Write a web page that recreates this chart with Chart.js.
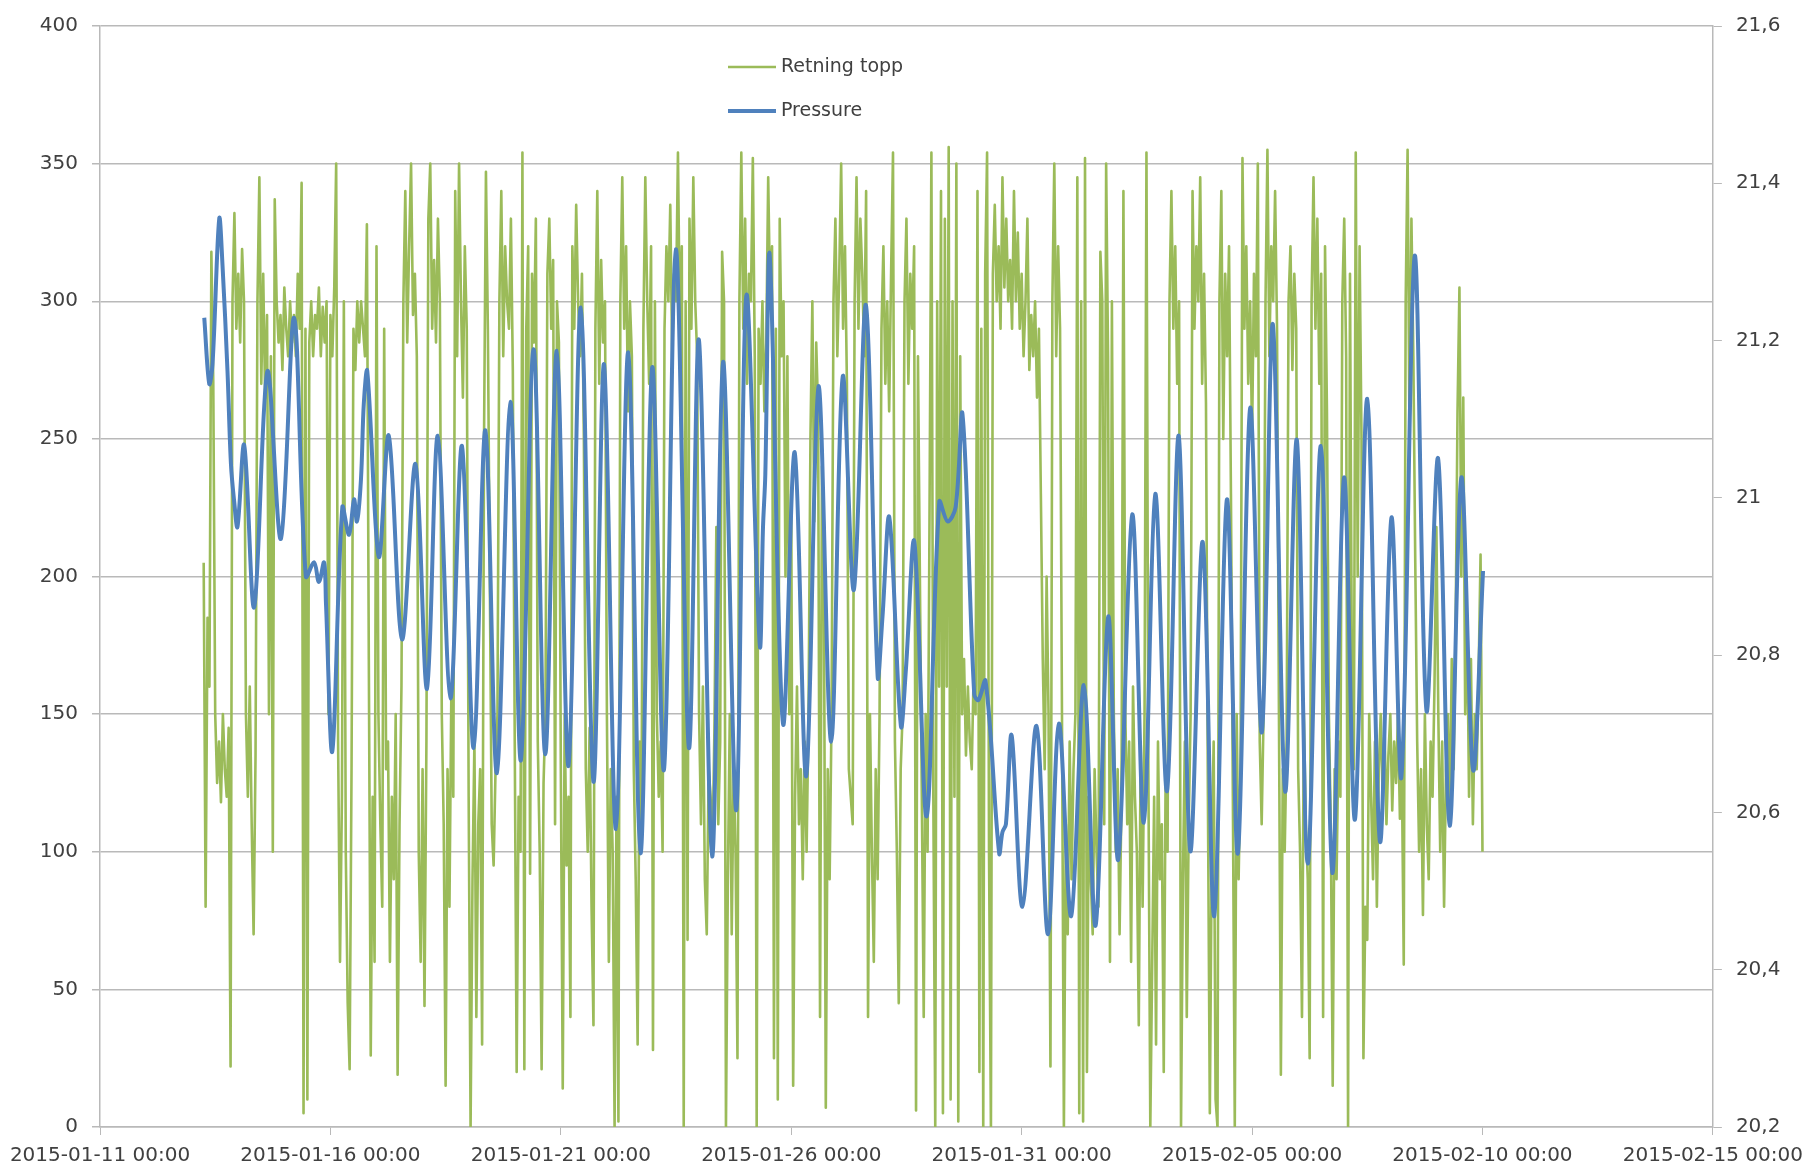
<!DOCTYPE html>
<html>
<head>
<meta charset="utf-8">
<script src="https://cdn.jsdelivr.net/npm/chart.js@4.4.0/dist/chart.umd.min.js"></script>
<style>
  html, body { margin: 0; padding: 0; background: #fff; }
</style>
</head>
<body>
<canvas id="chart" width="1812" height="1173"></canvas>
<script>
// x is hours since 2015-01-11 00:00, both series start 2015-01-13 06:00
const startHour = 54;
const xTickLabels = ["2015-01-11 00:00", "2015-01-16 00:00", "2015-01-21 00:00", "2015-01-26 00:00",
  "2015-01-31 00:00", "2015-02-05 00:00", "2015-02-10 00:00", "2015-02-15 00:00"];

// Retning topp, hourly
const retningTopp = [
  205, 80, 185, 160, 318, 270, 150, 125, 140, 118, 150, 130, 120, 145, 22, 300, 332, 290, 310, 285, 319, 300, 150, 120,
  160, 110, 70, 135, 300, 345, 270, 310, 265, 295, 150, 280, 100, 337, 300, 285, 295, 275, 305, 290, 280, 300, 285, 295,
  280, 310, 290, 343, 5, 290, 10, 285, 300, 280, 295, 290, 305, 280, 298, 285, 300, 150, 295, 280, 305, 350, 140, 60,
  120, 300, 100, 45, 21, 130, 290, 275, 300, 285, 300, 290, 280, 328, 170, 26, 120, 60, 320, 150, 110, 80, 290, 130,
  140, 60, 120, 90, 150, 19, 110, 160, 300, 340, 285, 320, 350, 295, 310, 280, 100, 60, 130, 44, 140, 330, 350, 290,
  315, 285, 330, 300, 150, 110, 15, 130, 80, 160, 120, 340, 280, 350, 300, 265, 320, 290, 120, 0, 90, 140, 40, 110,
  130, 30, 250, 347, 290, 200, 110, 95, 130, 150, 300, 340, 280, 320, 300, 290, 330, 275, 140, 20, 120, 100, 354, 21,
  290, 320, 92, 310, 285, 330, 140, 100, 21, 125, 150, 310, 330, 290, 315, 110, 300, 285, 130, 14, 150, 95, 120, 40,
  320, 290, 335, 300, 280, 310, 250, 130, 100, 145, 80, 37, 290, 340, 270, 315, 285, 300, 150, 60, 130, 100, 0, 120,
  2, 300, 345, 290, 320, 260, 300, 280, 130, 90, 30, 140, 110, 290, 345, 300, 270, 320, 28, 300, 150, 120, 140, 100,
  290, 320, 300, 335, 280, 310, 300, 354, 290, 320, 0, 300, 68, 330, 290, 345, 300, 280, 150, 110, 160, 90, 70, 130,
  120, 100, 145, 218, 110, 140, 318, 300, 0, 90, 150, 70, 130, 100, 25, 300, 354, 290, 330, 270, 310, 300, 352, 280,
  0, 290, 270, 300, 260, 285, 345, 300, 320, 25, 290, 10, 330, 280, 300, 200, 280, 150, 230, 15, 120, 160, 110, 130,
  90, 140, 100, 150, 250, 300, 220, 285, 260, 40, 240, 200, 7, 130, 90, 150, 300, 330, 280, 310, 350, 290, 320, 270,
  130, 120, 110, 300, 345, 290, 330, 310, 280, 340, 40, 150, 100, 60, 130, 90, 150, 290, 320, 270, 300, 260, 310, 354,
  140, 100, 45, 130, 150, 300, 330, 270, 310, 290, 320, 6, 280, 200, 120, 40, 150, 100, 220, 354, 120, 0, 300, 160,
  340, 5, 330, 160, 356, 10, 300, 120, 350, 2, 280, 150, 170, 135, 160, 140, 130, 165, 150, 340, 20, 290, 0, 310,
  354, 100, 0, 310, 335, 300, 320, 290, 345, 305, 330, 300, 315, 290, 340, 300, 325, 290, 310, 280, 300, 330, 275, 295,
  280, 300, 265, 290, 230, 170, 130, 200, 150, 22, 300, 350, 280, 320, 290, 150, 0, 110, 70, 140, 90, 130, 150, 345,
  5, 300, 2, 352, 20, 120, 90, 70, 130, 100, 80, 318, 300, 110, 350, 280, 60, 300, 150, 100, 130, 70, 120, 340,
  150, 110, 140, 60, 160, 120, 100, 37, 140, 80, 150, 354, 130, 0, 60, 120, 30, 140, 90, 110, 20, 130, 100, 300,
  340, 290, 320, 270, 300, 0, 90, 140, 40, 110, 150, 340, 290, 320, 300, 345, 270, 310, 263, 120, 5, 100, 140, 10,
  0, 300, 340, 250, 310, 280, 320, 230, 120, 0, 150, 90, 130, 352, 290, 320, 270, 300, 250, 310, 280, 350, 140, 110,
  150, 300, 355, 280, 320, 300, 340, 290, 150, 19, 130, 100, 140, 300, 320, 275, 310, 290, 130, 100, 40, 150, 110, 90,
  25, 300, 345, 290, 330, 270, 310, 40, 320, 260, 150, 110, 15, 130, 90, 140, 120, 300, 330, 280, 0, 310, 160, 130,
  354, 200, 320, 250, 25, 80, 68, 150, 120, 90, 140, 80, 130, 150, 120, 145, 110, 135, 150, 115, 140, 125, 150, 112,
  130, 59, 300, 355, 250, 330, 280, 205, 140, 100, 130, 77, 150, 110, 90, 140, 120, 160, 218, 150, 100, 140, 80, 130,
  150, 110, 170, 130, 180, 260, 305, 200, 265, 150, 185, 120, 170, 110, 150, 130, 165, 208, 100
];

// Pressure, read at turning points (hours after start)
const pressureHours = [
  0.3, 2.9, 4.6, 8.1, 9.8, 12.4, 14.2, 15.9, 17.6, 21.1, 26.3, 33.2, 40.2, 47.1, 53.2, 57.5, 60, 62.7, 63.7, 67,
  72.2, 75.7, 78.3, 79.8, 81.9, 83.4, 85.2, 91.2, 96.4, 103.3, 110.3, 116.3, 121.9, 128.5, 134.5, 140.6, 146.7,
  152.7, 159.7, 165.2, 171.8, 177.9, 183.9, 190, 196.4, 203, 208.5, 214.7, 221.1, 227.5, 233.6, 239.7, 245.9,
  252.7, 257.9, 264.8, 270.5, 277.4, 282.6, 289.6, 291.3, 292.5, 294.8, 301.7, 307.8, 313.8, 320.2, 326.8, 332.8,
  338.6, 344.9, 351, 353.5, 357.1, 363.1, 365.7, 370.1, 376.5, 383.1, 387.4, 391.6, 395.2, 401.3, 403.5, 407.2,
  414.3, 416, 417.8, 420.8, 426.4, 433.7, 439.7, 445.4, 451.8, 458.4, 464.5, 471.1, 476.3, 483.6, 489.6, 495.6,
  501.7, 507.8, 513.8, 520.3, 526.3, 532.9, 538.6, 545, 551.1, 556.8, 563.2, 569.3, 575, 581.8, 587.8, 593.9,
  599.6, 606, 612.6, 618.6, 623.8, 630.7, 636.8, 642.9, 648.9, 655, 661.1, 666.3
];
const pressureValues = [
  21.229, 21.145, 21.170, 21.355, 21.296, 21.161, 21.043, 20.995, 20.963, 21.067, 20.861, 21.161, 20.948, 21.229,
  20.900, 20.918, 20.893, 20.918, 20.865, 20.678, 20.988, 20.953, 20.998, 20.970, 21.023, 21.120, 21.161, 20.925,
  21.079, 20.820, 21.043, 20.757, 21.079, 20.745, 21.066, 20.682, 21.086, 20.650, 21.122, 20.666, 21.189, 20.674,
  21.187, 20.659, 21.242, 20.639, 21.170, 20.579, 21.185, 20.548, 21.166, 20.654, 21.316, 20.682, 21.201, 20.544,
  21.173, 20.603, 21.257, 20.813, 20.963, 21.030, 21.308, 20.713, 21.058, 20.646, 21.142, 20.690, 21.154, 20.883,
  21.245, 20.773, 20.848, 20.975, 20.710, 20.781, 20.944, 20.595, 20.995, 20.970, 20.988, 21.106, 20.750, 20.743,
  20.767, 20.548, 20.575, 20.585, 20.698, 20.480, 20.710, 20.445, 20.713, 20.468, 20.762, 20.456, 20.849, 20.540,
  20.979, 20.587, 21.005, 20.627, 21.079, 20.551, 20.944, 20.468, 20.998, 20.548, 21.114, 20.702, 21.221, 20.627,
  21.074, 20.535, 21.066, 20.523, 21.026, 20.591, 21.126, 20.563, 20.975, 20.646, 21.308, 20.730, 21.050, 20.583,
  21.026, 20.654, 20.907
];

const textColor = "#404040";
const gridColor = "#b9b9b9";
Chart.defaults.font.family = "'DejaVu Sans', sans-serif";
Chart.defaults.font.size = 20;
Chart.defaults.color = textColor;

// legend sits inside the plot, stacked
const plotLegend = {
  id: "plotLegend",
  afterDraw(chart) {
    const ctx = chart.ctx;
    chart.data.datasets.forEach((ds, i) => {
      const y = 67 + i * 44;
      ctx.save();
      ctx.strokeStyle = ds.borderColor;
      ctx.lineWidth = ds.borderWidth;
      ctx.beginPath();
      ctx.moveTo(728, y);
      ctx.lineTo(776, y);
      ctx.stroke();
      ctx.fillStyle = textColor;
      ctx.font = "19px 'DejaVu Sans'";
      ctx.textBaseline = "middle";
      ctx.fillText(ds.label, 781, y);
      ctx.restore();
    });
  },
};

new Chart(document.getElementById("chart"), {
  type: "line",
  data: {
    datasets: [
      {
        label: "Retning topp",
        data: retningTopp.map((v, i) => ({ x: startHour + i, y: v })),
        borderColor: "#9bbb59",
        borderWidth: 2.6,
        borderJoinStyle: "round",
        pointRadius: 0,
        tension: 0,
        yAxisID: "y",
        order: 1,
      },
      {
        label: "Pressure",
        data: pressureHours.map((h, i) => ({ x: startHour + h, y: pressureValues[i] })),
        borderColor: "#4f81bd",
        borderWidth: 4,
        borderJoinStyle: "round",
        pointRadius: 0,
        tension: 0.35,
        yAxisID: "y2",
        order: 0,
      },
    ],
  },
  options: {
    responsive: false,
    animation: false,
    layout: { padding: { top: 23, left: 0, right: 0, bottom: 0 } },
    plugins: { legend: { display: false }, tooltip: { enabled: false } },
    scales: {
      x: {
        type: "linear",
        min: 0,
        max: 840,
        afterFit: (s) => { s.height = 46; },
        ticks: {
          stepSize: 120,
          autoSkip: false,
          maxRotation: 0,
          padding: 9,
          callback: (v) => xTickLabels[Math.round(v / 120)],
        },
        grid: { drawOnChartArea: false, color: gridColor, tickLength: 8 },
        border: { color: gridColor, width: 1.5 },
      },
      y: {
        position: "left",
        min: 0,
        max: 400,
        afterFit: (s) => { s.width = 100; },
        ticks: { stepSize: 50, padding: 14 },
        grid: { color: gridColor, lineWidth: 1.5, tickLength: 8 },
        border: { color: gridColor, width: 1.5 },
      },
      y2: {
        position: "right",
        min: 20.2,
        max: 21.6,
        afterFit: (s) => { s.width = 95; },
        ticks: {
          stepSize: 0.2,
          padding: 14,
          callback: (v) => String(+v.toFixed(1)).replace(".", ","),
        },
        grid: { drawOnChartArea: false, color: gridColor, tickLength: 9 },
        border: { color: gridColor, width: 1.5 },
      },
    },
  },
  plugins: [plotLegend],
});
</script>
</body>
</html>
